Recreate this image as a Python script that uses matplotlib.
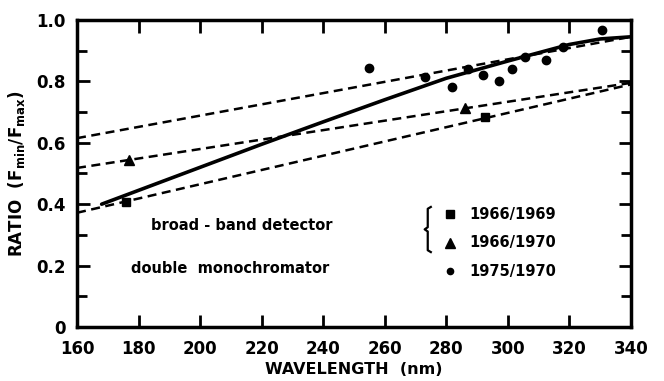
import matplotlib
matplotlib.use("Agg")
import matplotlib.pyplot as plt
from matplotlib.ticker import MultipleLocator
import numpy as np

plt.rcParams["font.family"] = "DejaVu Sans"
plt.rcParams["font.weight"] = "bold"

# data
sq_x = [176, 292.6]
sq_y = [0.408, 0.683]
tri_x = [177, 286]
tri_y = [0.545, 0.712]
circ_x = [255, 273, 282, 287, 292, 297, 301.5, 305.5, 312.4, 318, 330.5]
circ_y = [0.843, 0.813, 0.781, 0.840, 0.820, 0.801, 0.841, 0.880, 0.868, 0.913, 0.967]

# solid curve
curve_x = [168, 180, 200, 220, 240, 260, 280, 300, 320, 330, 340]
curve_y = [0.40, 0.445, 0.52, 0.595, 0.668, 0.74, 0.81, 0.866, 0.92, 0.938, 0.945]

# dashed fit lines (start, end)
dash_x = [160, 340]
dash_top = [0.615, 0.945]
dash_mid = [0.518, 0.795]
dash_low = [0.372, 0.790]

legend_years = ["1966/1969", "1966/1970", "1975/1970"]

fig = plt.figure(figsize=(6.64, 3.81), dpi=100)
ax = fig.add_axes([0.116, 0.1417, 0.834, 0.806])

ax.plot(curve_x, curve_y, color="black", lw=2.6, solid_capstyle="round")
for ys in (dash_top, dash_mid, dash_low):
    ax.plot(dash_x, ys, color="black", lw=1.8, dashes=(3.6, 2.2))

ax.plot(sq_x, sq_y, "s", color="black", ms=6)
ax.plot(tri_x, tri_y, "^", color="black", ms=7)
ax.plot(circ_x, circ_y, "o", color="black", ms=6)

# legend block
ax.text(243, 0.329, "broad - band detector", ha="right", va="center", fontsize=10.5)
ax.text(242, 0.192, "double  monochromator", ha="right", va="center", fontsize=10.5)
ax.plot([275, 274, 274, 273, 274, 274, 275],
        [0.391, 0.385, 0.325, 0.318, 0.311, 0.250, 0.244], color="black", lw=1.6)
leg_marks = ["s", "^", "o"]
leg_y = [0.368, 0.274, 0.182]
leg_ms = [5.5, 6.5, 4.5]
for m, yy, ms, lab in zip(leg_marks, leg_y, leg_ms, legend_years):
    ax.plot([281.2], [yy], m, color="black", ms=ms)
    ax.text(287.5, yy, lab, ha="left", va="center", fontsize=10.5)

ax.set_xlim(160, 340)
ax.set_ylim(0, 1.0)
ax.xaxis.set_major_locator(MultipleLocator(20))
ax.yaxis.set_major_locator(MultipleLocator(0.2))
ax.yaxis.set_minor_locator(MultipleLocator(0.1))
ax.set_yticks([0, 0.2, 0.4, 0.6, 0.8, 1.0])
ax.set_yticklabels(["0", "0.2", "0.4", "0.6", "0.8", "1.0"])

ax.tick_params(axis="both", which="major", direction="in", length=9, width=2,
               labelsize=12, top=True, right=True)
ax.tick_params(axis="y", which="minor", direction="in", length=7, width=2, right=True)
ax.tick_params(axis="x", pad=9)
ax.tick_params(axis="y", pad=8)
for lab in ax.get_xticklabels() + ax.get_yticklabels():
    lab.set_fontweight("bold")
for sp in ax.spines.values():
    sp.set_linewidth(2.5)

ax.set_xlabel("WAVELENGTH  (nm)", fontsize=11.5, fontweight="bold", labelpad=3)
ax.set_ylabel(r"RATIO  (F$_{\mathbf{min}}$/F$_{\mathbf{max}}$)", fontsize=12,
              fontweight="bold", labelpad=7)

fig.savefig("out.png", dpi=100)
